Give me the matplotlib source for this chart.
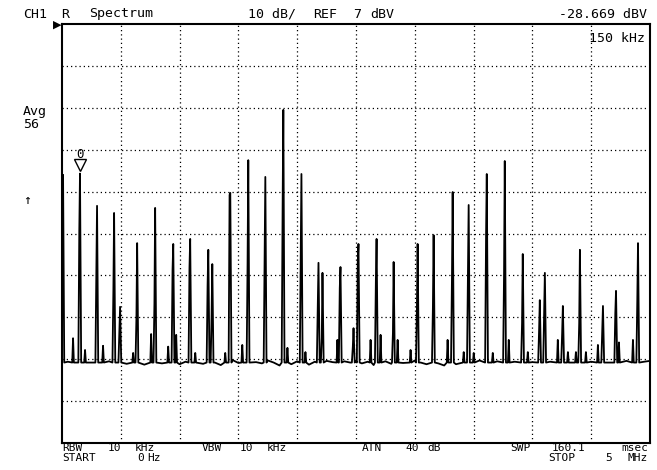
import numpy as np
import matplotlib
matplotlib.use("Agg")
import matplotlib.pyplot as plt

# screen: 0..5 MHz, REF 7 dBV, 10 dB/div
start_khz, stop_khz = 0, 5000
ref_dbv, db_per_div = 7, 10

# main spectral lines (kHz, dBV) and level of the sample just before the top
peak_khz = [9, 153, 298, 443, 494, 639, 792, 946, 1090, 1244, 1278, 1431, 1584,
            1729, 1882, 2036, 2181, 2215, 2368, 2479, 2521, 2675, 2820, 3024,
            3160, 3322, 3458, 3612, 3765, 3918, 4063, 4106, 4259, 4404, 4600,
            4711, 4898]
peak_dbv = [-29.0, -28.7, -36.4, -38.1, -60.5, -45.3, -36.9, -45.5, -44.3, -46.9,
            -50.3, -33.3, -25.5, -29.5, -13.5, -28.8, -50.0, -52.4, -51.0, -65.6,
            -45.5, -44.3, -49.8, -45.5, -43.4, -33.1, -36.2, -28.8, -25.7, -47.9,
            -58.9, -52.4, -60.3, -46.9, -60.3, -56.7, -45.3]
shoulder_dbv = [-60.1, -42.6, -52.4, -56.5, -66.0, -62.9, -59.6, -51.7, -51.2,
                -55.3, -62.5, -33.8, -50.0, -47.4, -36.7, -47.4, -60.0, -67.9,
                -56.0, -70.0, -49.8, -54.1, -66.7, -60.8, -60.5, -53.6, -52.4,
                -43.4, -52.2, -64.4, -66.0, -62.0, -66.7, -64.4, -66.0, -62.0,
                -58.9]

# small spurs sitting on the floor
spur_khz = [94, 196, 349, 605, 758, 903, 971, 1133, 1388, 1533, 1917, 2070, 2342,
            2624, 2709, 2854, 2964, 3279, 3416, 3501, 3663, 3799, 3961, 4216,
            4302, 4370, 4455, 4557, 4736, 4855]
spur_dbv = [-68.0, -70.8, -69.8, -71.5, -67.0, -70.0, -67.2, -71.5, -71.5, -69.6,
            -70.3, -71.3, -68.4, -68.4, -67.2, -68.4, -70.8, -68.4, -71.3, -71.5,
            -71.5, -68.4, -71.3, -68.4, -71.3, -71.3, -71.3, -69.6, -69.0, -68.4]

# noise floor, every 50 kHz
floor_khz = np.arange(0, 5001, 50)
floor_dbv = [
    -73.0, -73.6, -73.2, -74.0, -73.4, -73.8, -73.1, -74.2, -73.5, -73.9,
    -73.3, -74.1, -73.6, -73.2, -74.3, -73.7, -73.4, -74.0, -73.5, -73.8,
    -74.2, -73.6, -73.3, -73.9, -74.1, -73.5, -73.8, -74.4, -73.6, -73.2,
    -73.9, -74.2, -73.4, -73.7, -74.0, -73.3, -73.8, -74.5, -73.9, -74.2,
    -73.5, -73.9, -74.3, -73.6, -74.0, -73.4, -73.7, -74.1, -73.5, -73.8,
    -73.4, -74.0, -73.6, -74.4, -73.8, -73.5, -74.1, -74.6, -73.9, -73.7,
    -73.3, -73.8, -74.2, -73.6, -74.0, -74.5, -73.8, -74.2, -73.5, -73.9,
    -73.6, -73.3, -73.9, -74.1, -73.5, -73.8, -74.2, -73.6, -73.9, -74.3,
    -73.7, -73.4, -74.0, -73.6, -73.9, -74.3, -73.5, -73.8, -74.4, -74.1,
    -73.6, -73.9, -73.3, -73.8, -74.2, -73.6, -73.4, -73.9, -73.2, -73.6,
    -73.4]
base_dbv = -73.8

marker_khz, marker_dbv = 150, -28.669

# build trace: floor samples plus spikes
spike_f = np.array(peak_khz + spur_khz)
pts = []
for f, v in zip(floor_khz, floor_dbv):
    if np.min(np.abs(spike_f - f)) > 18:
        pts.append((f, v))
for f, v, s in zip(peak_khz, peak_dbv, shoulder_dbv):
    pts += [(f - 14, base_dbv), (f - 6, s), (f, v), (f + 10, base_dbv)]
for f, v in zip(spur_khz, spur_dbv):
    pts += [(f - 7, base_dbv), (f, v), (f + 7, base_dbv)]
pts.sort()
tx, ty = zip(*pts)

W, H = 657, 470
fig = plt.figure(figsize=(W / 100, H / 100), dpi=100)
ax = fig.add_axes([62 / W, (H - 443) / H, 588 / W, 419 / H])
ax.set_xlim(start_khz, stop_khz)
ax.set_ylim(ref_dbv - 10 * db_per_div, ref_dbv)
ax.set_xticks([])
ax.set_yticks([])
for i in range(1, 10):
    ax.axvline(start_khz + i * (stop_khz - start_khz) / 10, color='black',
               lw=0.9, ls=(0, (1, 2.4)), zorder=1)
    ax.axhline(ref_dbv - i * db_per_div, color='black', lw=0.9,
               ls=(0, (1, 2.4)), zorder=1)
for sp in ax.spines.values():
    sp.set_linewidth(1.5)

ax.plot(tx, ty, color='black', lw=1.3, zorder=3)

mono = 'DejaVu Sans Mono'

# marker 0
ax.plot(marker_khz, marker_dbv + 2.0, marker='v', ms=8, mfc='white',
        mec='black', mew=1, zorder=4)
ax.text(marker_khz, marker_dbv + 4.6, '0', family=mono,
        fontsize=9, ha='center', va='center')


def label(x, y, s, ha='left', size=9.5):
    fig.text(x / W, 1 - y / H, s, ha=ha, va='center', family=mono, fontsize=size)


# header line
label(23, 14, 'CH1')
label(61, 14, 'R')
label(89, 14, 'Spectrum')
label(248, 14, '10 dB/')
label(313, 14, 'REF')
label(353, 14, '7')
label(370, 14, 'dBV')
label(647, 14, '-28.669 dBV', ha='right')
label(645, 39, '150 kHz', ha='right')
fig.text(57 / W, 1 - 25 / H, '\u25b6', ha='center', va='center', fontsize=8)

# left margin
label(23, 111, 'Avg')
label(23, 125, '56')
label(23, 201, '\u2191')

# footer
fs = 8
label(62, 448, 'RBW', size=fs)
label(108, 448, '10', size=fs)
label(135, 448, 'kHz', size=fs)
label(202, 448, 'VBW', size=fs)
label(240, 448, '10', size=fs)
label(267, 448, 'kHz', size=fs)
label(362, 448, 'ATN', size=fs)
label(405, 448, '40', size=fs)
label(427, 448, 'dB', size=fs)
label(510, 448, 'SWP', size=fs)
label(552, 448, '160.1', size=fs)
label(648, 448, 'msec', ha='right', size=fs)
label(62, 458, 'START', size=fs)
label(137, 458, '0', size=fs)
label(147, 458, 'Hz', size=fs)
label(548, 458, 'STOP', size=fs)
label(605, 458, '5', size=fs)
label(648, 458, 'MHz', ha='right', size=fs)

fig.savefig('out.png', dpi=100)
